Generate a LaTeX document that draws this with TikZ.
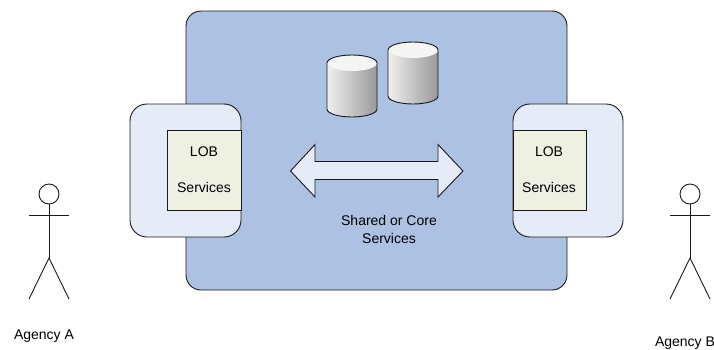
\documentclass[tikz,border=0pt]{standalone}
\usepackage{fontspec}
\setmainfont{Liberation Sans}
\definecolor{coreblue}{HTML}{ADC1E3}
\definecolor{lightblue}{HTML}{E6ECF7}
\definecolor{lobgreen}{HTML}{EEF0E2}
\tikzset{
  outline/.style={draw=black!90,line width=0.9pt},
  label/.style={font=\fontsize{14}{16}\selectfont,inner sep=0pt},
  barrel/.style={left color=black!6,right color=black!40,shading angle=90},
  actor/.style={draw=black!90,line width=0.9pt}
}
\begin{document}
\begin{tikzpicture}[x=1pt,y=-1pt]
\useasboundingbox (0,0) rectangle (714,349);

\coordinate (coreA) at (186,11);
\coordinate (coreB) at (567,290);
\coordinate (lobA) at (130,104);
\coordinate (lobB) at (241,237);
\coordinate (lobC) at (513,104);
\coordinate (lobD) at (623,237);
\coordinate (innerA) at (167,130.5);
\coordinate (innerB) at (241,210.5);
\coordinate (innerC) at (513,130.5);
\coordinate (innerD) at (586,210.5);

\draw[outline,fill=coreblue,rounded corners=15] (coreA) rectangle (coreB);
\draw[outline,fill=lightblue,rounded corners=17] (lobA) rectangle (lobB);
\draw[outline,fill=lightblue,rounded corners=17] (lobC) rectangle (lobD);
\draw[outline,fill=lobgreen] (innerA) rectangle (innerB);
\draw[outline,fill=lobgreen] (innerC) rectangle (innerD);

\node[label] (lobtopA) at (204,152) {LOB};
\node[label] (lobsvcA) at (204,187) {Services};
\node[label] (lobtopB) at (549,152) {LOB};
\node[label] (lobsvcB) at (549,187) {Services};

% databases
\shade[barrel] (327,63) -- (327,109) arc (180:0:25 and 8) -- (377,63) arc (0:180:25 and 8) -- cycle;
\fill[black!4] (352,63) ellipse (25 and 8);
\draw[outline] (327,63) -- (327,109) arc (180:0:25 and 8) -- (377,63) arc (0:-180:25 and 8);
\shade[barrel] (388,50) -- (388,96) arc (180:0:25 and 8) -- (438,50) arc (0:180:25 and 8) -- cycle;
\fill[black!4] (413,50) ellipse (25 and 8);
\draw[outline] (388,50) -- (388,96) arc (180:0:25 and 8) -- (438,50) arc (0:-180:25 and 8);

% double arrow
\draw[outline,fill=lightblue] (290.5,171) -- (315,144.5) -- (315,161.5) -- (438,161.5)
  -- (438,144.5) -- (463,171) -- (438,197) -- (438,179.5) -- (315,179.5) -- (315,197) -- cycle;

\node[label] (shared) at (389,220) {Shared or Core};
\node[label] (sharedsvc) at (389,238) {Services};

% agency A
\draw[actor] (49,194) circle (10);
\draw[actor] (49,204) -- (49,258);
\draw[actor] (29,215) -- (69,215);
\draw[actor] (29,299) -- (49,258) -- (69,299);
\node[label] (agencyA) at (44,336) {Agency A};

% agency B
\draw[actor] (690,194) circle (10);
\draw[actor] (690,204) -- (690,258);
\draw[actor] (670,215) -- (710,215);
\draw[actor] (670,299) -- (690,258) -- (710,299);
\node[label] (agencyB) at (685,343) {Agency B};
\end{tikzpicture}
\end{document}
